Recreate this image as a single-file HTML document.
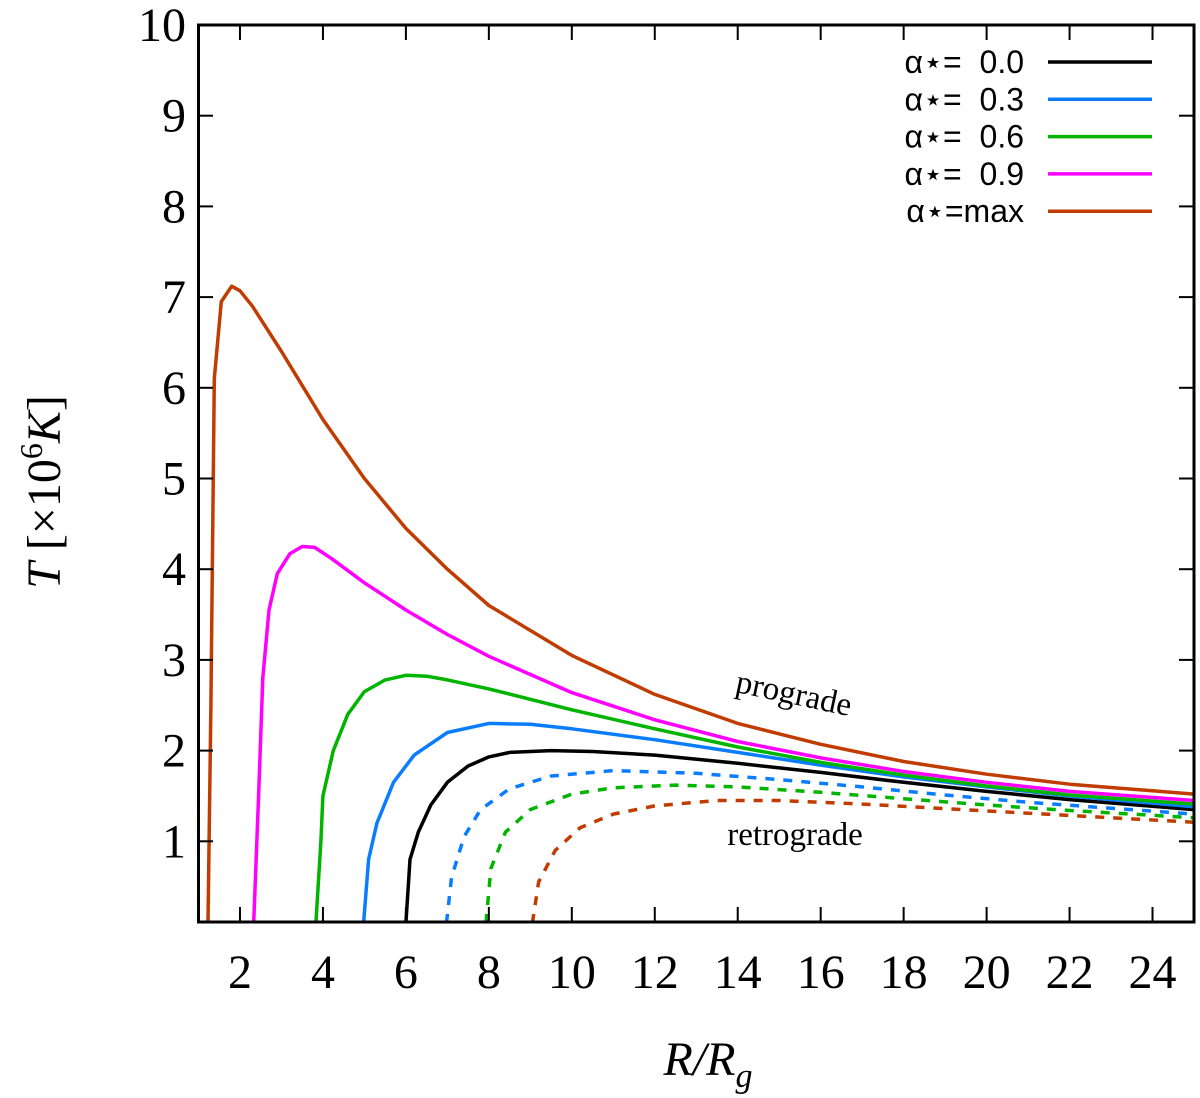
<!DOCTYPE html>
<html><head><meta charset="utf-8"><style>
body{margin:0;background:#fff}
svg{display:block}
.t{font-family:"Liberation Serif",serif;font-size:48px;fill:#000}
.lg{font-family:"Liberation Sans",sans-serif;font-size:32px;fill:#000;white-space:pre}
</style></head><body>
<svg id="c" width="1200" height="1098" xmlns="http://www.w3.org/2000/svg">
<g id="marks"></g>
<rect x="198.5" y="25" width="995.5" height="897" fill="none" stroke="#000" stroke-width="3"/>
<g id="axes"></g>
<text class="t" x="60" y="492" text-anchor="middle" transform="rotate(-90 60 492)"><tspan font-style="italic">T</tspan> [×10<tspan dy="-18" font-size="32">6</tspan><tspan dy="18" font-style="italic">K</tspan>]</text>
<text class="t" x="708" y="1075" text-anchor="middle" font-style="italic">R/R<tspan dy="12" font-size="34">g</tspan></text>
<text class="t" style="font-size:33px" x="793" y="704" text-anchor="middle" transform="rotate(12 793 698)">prograde</text>
<text class="t" style="font-size:33px" x="795" y="845" text-anchor="middle">retrograde</text>
<g id="legend"></g>
</svg>
<script>
const xTicks=[2,4,6,8,10,12,14,16,18,20,22,24];
const yTicks=[1,2,3,4,5,6,7,8,9,10];
const spinLabels=["α⋆=  0.0","α⋆=  0.3","α⋆=  0.6","α⋆=  0.9","α⋆=max"];
const colors=["#000000","#0a7dff","#00b400","#ff00ff","#c03c00"];
const R0=[6.0,6.1,6.3,6.6,7,7.5,8,8.5,9.5,10.5,12,14,16,18,20,22,25];
const T0=[0.1,0.8,1.1,1.4,1.65,1.83,1.93,1.98,2.0,1.99,1.95,1.86,1.76,1.65,1.55,1.46,1.35];
const R3=[4.98,5.1,5.3,5.7,6.2,7,8,9,10,12,14,16,18,20,22,25];
const T3=[0.1,0.8,1.2,1.65,1.95,2.2,2.3,2.29,2.24,2.12,1.98,1.84,1.71,1.6,1.5,1.38];
const R6=[3.83,3.95,4.0,4.25,4.6,5,5.5,6,6.5,7,8,10,12,14,16,18,20,22,25];
const T6=[0.1,1.0,1.5,2.0,2.4,2.65,2.78,2.83,2.82,2.78,2.68,2.45,2.24,2.04,1.87,1.73,1.61,1.51,1.41];
const R9=[2.33,2.45,2.55,2.7,2.9,3.2,3.5,3.8,4.2,5,6,7,8,10,12,14,16,18,20,22,25];
const T9=[0.1,1.5,2.8,3.55,3.95,4.17,4.25,4.24,4.12,3.85,3.55,3.28,3.04,2.64,2.34,2.1,1.92,1.77,1.65,1.55,1.45];
const Rm=[1.23,1.3,1.38,1.55,1.8,2.0,2.3,3,4,5,6,7,8,10,12,14,16,18,20,22,25];
const Tm=[0.1,2.5,6.1,6.95,7.12,7.07,6.9,6.4,5.65,5.0,4.45,4.0,3.6,3.05,2.62,2.3,2.07,1.88,1.74,1.63,1.52];
const Rr3=[6.98,7.1,7.4,7.8,8.5,9.5,11,13,15,17,19,21,25];
const Tr3=[0.1,0.6,1.05,1.35,1.58,1.72,1.78,1.75,1.68,1.6,1.51,1.43,1.3];
const Rr6=[7.93,8.05,8.4,9,10,11,12.5,14,16,18,20,22,25];
const Tr6=[0.1,0.7,1.1,1.35,1.52,1.59,1.62,1.6,1.54,1.47,1.4,1.34,1.26];
const Rrm=[9.05,9.2,9.6,10.2,11,12,13.5,15,17,19,21,23,25];
const Trm=[0.1,0.55,0.9,1.15,1.3,1.39,1.45,1.45,1.41,1.36,1.31,1.26,1.21];
const NS="http://www.w3.org/2000/svg";
const X0=198.5,X1=1194,XMIN=1,XMAX=25,YB=932,YU=90.7;
const sx=v=>X0+(v-XMIN)*(X1-X0)/(XMAX-XMIN);
const sy=v=>YB-v*YU;
const marks=document.getElementById('marks'),axes=document.getElementById('axes'),legend=document.getElementById('legend');
function mk(tag,attrs,parent){const e=document.createElementNS(NS,tag);for(const k in attrs)e.setAttribute(k,attrs[k]);parent.appendChild(e);return e;}
function line(R,T,col,dash,name){
  const d=R.map((r,i)=>(i?'L':'M')+sx(r).toFixed(1)+' '+sy(T[i]).toFixed(1)).join(' ');
  const p=mk('path',{d:d,fill:'none',stroke:col,'stroke-width':3.5,'stroke-linejoin':'round'},marks);
  if(dash)p.setAttribute('stroke-dasharray','9 9');
  
  
}
line(Rr3,Tr3,colors[1],true,'retrograde-curve-0.3');
line(Rr6,Tr6,colors[2],true,'retrograde-curve-0.6');
line(Rrm,Trm,colors[4],true,'retrograde-curve-max');
line(R0,T0,colors[0],false,'curve-0.0');
line(R3,T3,colors[1],false,'prograde-curve-0.3');
line(R6,T6,colors[2],false,'prograde-curve-0.6');
line(R9,T9,colors[3],false,'prograde-curve-0.9');
line(Rm,Tm,colors[4],false,'prograde-curve-max');
xTicks.forEach(v=>{
  const x=sx(v);
  mk('line',{x1:x,x2:x,y1:922,y2:907,stroke:'#000','stroke-width':2},axes);
  mk('line',{x1:x,x2:x,y1:25,y2:40,stroke:'#000','stroke-width':2},axes);
  const t=mk('text',{x:x,y:988,'text-anchor':'middle',class:'t'},axes);t.textContent=v;
  
  
});
yTicks.forEach(v=>{
  const y=sy(v);
  mk('line',{x1:198.5,x2:213,y1:y,y2:y,stroke:'#000','stroke-width':2},axes);
  mk('line',{x1:1194,x2:1179,y1:y,y2:y,stroke:'#000','stroke-width':2},axes);
  const t=mk('text',{x:186,y:y+16,'text-anchor':'end',class:'t'},axes);t.textContent=v;
  
  
});
spinLabels.forEach((s,i)=>{
  const y=62+i*37.3;
  const g=mk('g',{},legend);
  
  
  const t=mk('text',{x:1024,y:y+11,'text-anchor':'end',class:'lg','xml:space':'preserve'},g);t.textContent=s;
  mk('line',{x1:1048,x2:1152,y1:y,y2:y,stroke:colors[i],'stroke-width':3.5},g);
});
</script>
</body></html>
